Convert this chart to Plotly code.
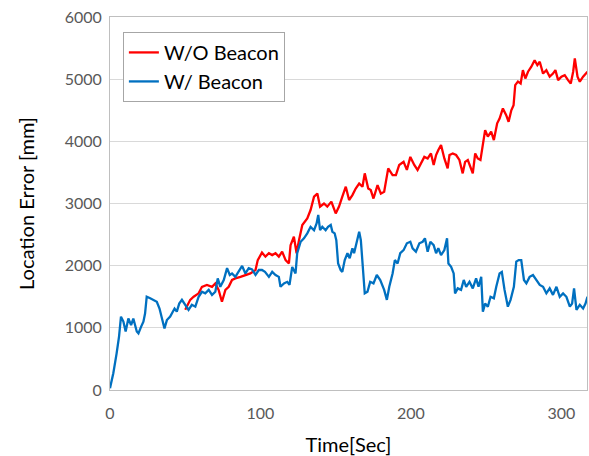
import plotly.graph_objects as go

# W/ Beacon (blue)
t_with = [0, 2.2, 4.4, 6, 7.3, 8.9, 10.4, 12.2, 14, 15.5, 17.8, 18.9, 20.7, 22.2, 23.3, 24.4,
          26.7, 28.9, 31.1, 32.9, 34.4, 36.2, 37.8, 40, 41.1, 42.9, 44.4, 46, 47.8, 50, 52.2,
          54.4, 56.7, 58.9, 61.1, 63.3, 65.6, 67.8, 70, 71.6, 73.3, 75.6, 77.8, 79.6, 81.1,
          83.3, 85.6, 87.8, 90, 92.2, 94.4, 96.7, 98.9, 101, 103, 105.6, 107.8, 110, 112.2,
          113.3, 115.6, 117.8, 119.3, 121.1, 123.3, 124.4, 126.7, 128.9, 131.1, 133.3, 135.6,
          137.3, 138.4, 139.6, 141.1, 143.3, 144.9, 146.7, 147.8, 149.3, 150.4, 151.6, 153.3,
          154.4, 156, 157.8, 159.3, 161.1, 162.2, 164, 165.6, 166.7, 167.8, 169.3, 171.1,
          172.9, 175.1, 177.3, 179.6, 182.2, 184, 185.6, 187.8, 189.3, 191.1, 192.9, 195.1,
          197.3, 199.6, 201.1, 203.3, 205.6, 207.8, 209.3, 211.1, 212.9, 215.1, 216.7, 218.2,
          220, 222.2, 224, 224.9, 226.7, 228.4, 229.3, 231.1, 233.3, 235.1, 236.7, 238.9,
          241.1, 243.3, 244.9, 246.7, 247.8, 249.3, 251.1, 252.9, 255.1, 256.7, 258.9, 260.4,
          262.2, 264.4, 266.2, 268.4, 270, 271.6, 273.3, 275.1, 276.7, 278.9, 281.1, 283.3,
          285.6, 287.8, 290, 292.2, 294.4, 296.7, 298.9, 301.1, 303.3, 305.6, 307.1, 308.4,
          310, 312.2, 314.4, 316, 317.3]
err_with = [30, 270, 590, 860, 1180, 1100, 940, 1150, 1045, 1150, 940, 910, 1020, 1100, 1230,
            1500, 1475, 1450, 1420, 1310, 1150, 990, 1125, 1180, 1230, 1310, 1260, 1390, 1450,
            1370, 1290, 1370, 1340, 1500, 1580, 1555, 1610, 1530, 1580, 1795, 1660, 1770, 1960,
            1850, 1875, 1820, 1900, 1995, 1875, 1960, 1940, 1850, 1930, 1930, 1900, 1820, 1900,
            1850, 1820, 1660, 1715, 1740, 1690, 1980, 1875, 2200, 2385, 2440, 2520, 2625, 2570,
            2680, 2815, 2570, 2625, 2570, 2625, 2655, 2545, 2520, 2410, 2035, 1930, 1900, 2090,
            2200, 2120, 2280, 2200, 2410, 2545, 2410, 1980, 1555, 1580, 1740, 1715, 1850, 1770,
            1610, 1450, 1660, 1875, 2090, 2035, 2200, 2250, 2360, 2385, 2280, 2225, 2360, 2385,
            2440, 2225, 2385, 2330, 2200, 2280, 2170, 2250, 2440, 2035, 1980, 1875, 1555, 1635,
            1610, 1770, 1660, 1740, 1635, 1795, 1660, 1820, 1260, 1390, 1340, 1500, 1475, 1660,
            1875, 1900, 1610, 1340, 1450, 1660, 2065, 2090, 2090, 1770, 1715, 1820, 1850, 1770,
            1690, 1660, 1555, 1635, 1530, 1660, 1500, 1555, 1500, 1340, 1390, 1635, 1290, 1370,
            1310, 1390, 1500]

# W/O Beacon (red)
t_without = [50, 53.3, 55.6, 58.9, 61.1, 64.4, 67.8, 70, 72.2, 74.4, 76.7, 78.9, 81.1, 83.3,
             86.7, 90, 93.3, 96.7, 98.2, 101, 103.3, 105.6, 107.8, 110, 112.2, 114.4, 116.7,
             118.9, 120, 122.2, 124, 125.6, 127.8, 131.1, 133.3, 135.6, 137.8, 139.6, 142.2,
             144.4, 147.1, 150, 152.2, 154.4, 156.7, 158.9, 161.1, 163.3, 165.6, 167.8, 169.3,
             171.6, 173.3, 175.1, 177.8, 180, 182.2, 184.9, 187.8, 190, 192.2, 195.1, 197.3,
             199.6, 202.2, 204.4, 206.7, 208.9, 211.1, 213.3, 215.1, 216.7, 218.2, 220, 222.2,
             224.4, 225.6, 227.8, 230, 232.2, 234.4, 236, 237.8, 239.6, 241.1, 242.7, 244.4,
             246.2, 247.8, 249.3, 251.1, 253.3, 255.1, 257.3, 258.9, 261.1, 263.3, 264.9, 266.7,
             268.2, 269.3, 271.1, 272.9, 274.4, 276, 277.8, 280, 282.2, 284, 285.6, 287.8, 290,
             292.2, 294.4, 296, 297.8, 300, 302.2, 304.4, 306.2, 307.8, 308.9, 310.7, 312.2,
             314.4, 316, 317.3]
err_without = [1290, 1450, 1500, 1555, 1660, 1690, 1660, 1715, 1610, 1420, 1610, 1660, 1770,
               1795, 1820, 1850, 1875, 1930, 2090, 2210, 2145, 2200, 2170, 2200, 2145, 2225,
               2090, 2035, 2330, 2465, 2200, 2410, 2655, 2760, 2895, 3110, 3160, 2950, 3000,
               2950, 3030, 2840, 2950, 3110, 3270, 3055, 3135, 3240, 3320, 3270, 3485, 3240,
               3215, 3080, 3295, 3160, 3190, 3565, 3455, 3455, 3620, 3670, 3540, 3750, 3620,
               3540, 3645, 3750, 3725, 3805, 3620, 3780, 3860, 3940, 3725, 3565, 3780, 3805,
               3780, 3700, 3485, 3670, 3700, 3590, 3485, 3805, 3725, 3700, 3965, 4180, 4075,
               4155, 4020, 4290, 4365, 4530, 4420, 4315, 4500, 4580, 4905, 4960, 4930, 5145,
               5010, 5120, 5200, 5305, 5225, 5280, 5090, 5145, 5040, 5090, 5145, 4985, 5040,
               5065, 4985, 4930, 5120, 5335, 5040, 4960, 5040, 5090, 5120]

x_ticks = [0, 100, 200, 300]
y_ticks = [0, 1000, 2000, 3000, 4000, 5000, 6000]

font = "Lato, 'Open Sans', sans-serif"

fig = go.Figure()
fig.add_trace(go.Scatter(x=t_without, y=err_without, mode="lines", name="W/O Beacon",
                         line=dict(color="#FF0000", width=2.3)))
fig.add_trace(go.Scatter(x=t_with, y=err_with, mode="lines", name="W/ Beacon",
                         line=dict(color="#0070C0", width=2.3)))

fig.update_layout(
    width=589, height=456,
    margin=dict(l=110, r=2, t=17, b=66, autoexpand=False),
    plot_bgcolor="white", paper_bgcolor="white",
    font=dict(family=font, color="#000000"),
    legend=dict(x=0.027, y=0.96, xanchor="left", yanchor="top",
                bordercolor="#a6a6a6", borderwidth=1, bgcolor="white",
                font=dict(size=20, family=font, color="#000000"),
                tracegroupgap=0, itemwidth=30),
    xaxis=dict(range=[0, 317], tickvals=x_ticks, showgrid=False, zeroline=False,
               showline=True, linecolor="#bfbfbf", linewidth=1, mirror=True,
               ticks="", ticklabelstandoff=9, automargin=False,
               tickfont=dict(size=16, color="#595959"),
               title=dict(text="Time[Sec]", font=dict(size=20, color="#000000"), standoff=16)),
    yaxis=dict(range=[0, 6000], tickvals=y_ticks, showgrid=True, gridcolor="#d9d9d9",
               zeroline=False, showline=True, linecolor="#bfbfbf", linewidth=1, mirror=True,
               ticks="", ticklabelstandoff=4, automargin=False,
               tickfont=dict(size=16, color="#595959"),
               title=dict(text="Location Error [mm]", font=dict(size=20, color="#000000"),
                          standoff=24)),
)

# drop the browser's default body margin so the figure sits at the page corner
fig.write_html("out.html", config={"displayModeBar": False},
               post_script="document.body.style.margin = '0';")
